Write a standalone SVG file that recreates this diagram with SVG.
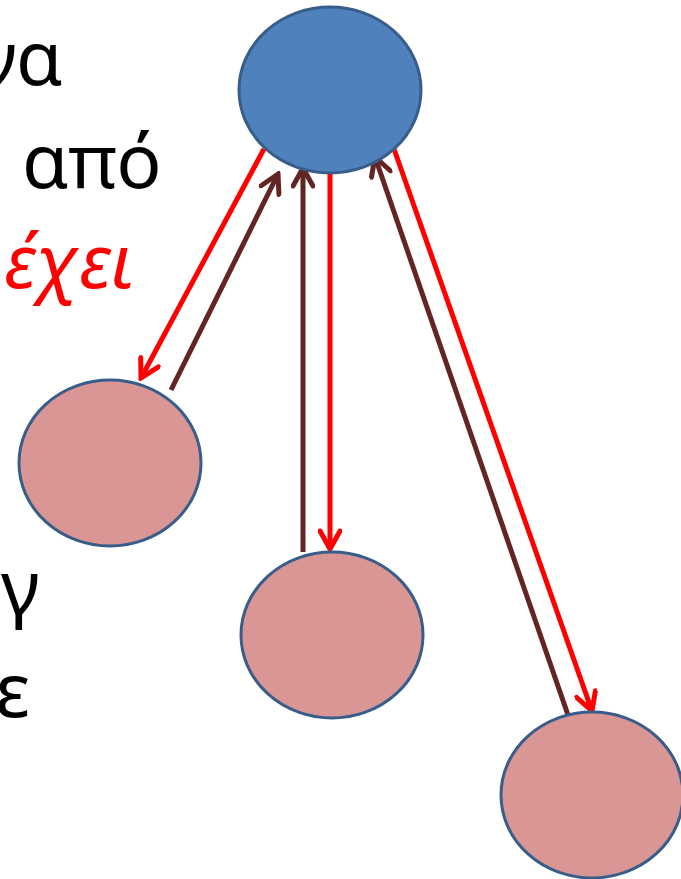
<svg xmlns="http://www.w3.org/2000/svg" width="681" height="879" viewBox="0 0 681 879">
<style>
.t{font-family:"Noto Sans","Open Sans","DejaVu Sans",sans-serif;font-size:75px;fill:#000}
.r{fill:#FF0000;font-style:italic}
.root{fill:#4F81BD;stroke:#385D8A;stroke-width:3}
.leaf{fill:#D99694;stroke:#385D8A;stroke-width:3}
.red{stroke:#FF0000;stroke-width:5;fill:none}
.brn{stroke:#632523;stroke-width:5;fill:none}
</style>
<defs>
<marker id="ar" viewBox="0 0 24 24" refX="21" refY="12" markerWidth="24" markerHeight="24" markerUnits="userSpaceOnUse" orient="auto">
<path d="M3,2 L21,12 L3,22" fill="none" stroke="#FF0000" stroke-width="5" stroke-linecap="round" stroke-linejoin="miter"/>
</marker>
<marker id="ab" viewBox="0 0 24 24" refX="21" refY="12" markerWidth="24" markerHeight="24" markerUnits="userSpaceOnUse" orient="auto">
<path d="M3,2 L21,12 L3,22" fill="none" stroke="#632523" stroke-width="5" stroke-linecap="round" stroke-linejoin="miter"/>
</marker>
</defs>
<g id="text">
<text class="t" x="-22" y="85">να</text>
<text class="t" x="22" y="188">από</text>
<text class="t r" x="4" y="288">έχει</text>
<text class="t" x="1" y="614">γ</text>
<text class="t" x="-5" y="717">ε</text>
</g>
<g id="connectors">
<line class="red" x1="264" y1="149" x2="141" y2="378" marker-end="url(#ar)"/>
<line class="brn" x1="171" y1="390" x2="278" y2="174" marker-end="url(#ab)"/>
<line class="brn" x1="303" y1="552" x2="303" y2="168" marker-end="url(#ab)"/>
<line class="red" x1="330" y1="172" x2="330" y2="549" marker-end="url(#ar)"/>
<line class="brn" x1="568" y1="715" x2="375" y2="157" marker-end="url(#ab)"/>
<line class="red" x1="394" y1="149" x2="592" y2="711" marker-end="url(#ar)"/>
</g>
<g id="root"><ellipse class="root" cx="330" cy="90" rx="91" ry="83"/></g>
<g id="left"><ellipse class="leaf" cx="110" cy="463" rx="91" ry="83"/></g>
<g id="middle"><ellipse class="leaf" cx="332" cy="635" rx="91" ry="83"/></g>
<g id="right"><ellipse class="leaf" cx="592" cy="795" rx="91" ry="83"/></g>
</svg>
